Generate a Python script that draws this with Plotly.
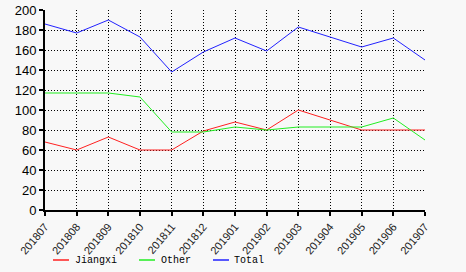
import plotly.graph_objects as go

months = ["201807", "201808", "201809", "201810", "201811", "201812", "201901",
          "201902", "201903", "201904", "201905", "201906", "201907"]
jiangxi = [68, 60, 73, 60, 60, 79, 88, 80, 100, 90, 80, 80, 80]
other = [117, 117, 117, 113, 78, 78, 83, 80, 83, 83, 83, 92, 70]
total = [186, 177, 190, 173, 138, 158, 172, 159, 183, 173, 163, 172, 150]

series_names = ["Jiangxi", "Other", "Total"]
series_colors = ["#ff2020", "#22ee22", "#2222ff"]
series_values = [jiangxi, other, total]

y_ticks = list(range(0, 201, 20))

# plot area geometry (px)
L, R, T, B = 45, 41, 10, 62
W, H = 466, 272
PW, PH = W - L - R, H - T - B

fig = go.Figure()
for name, color, vals in zip(series_names, series_colors, series_values):
    fig.add_trace(go.Scatter(x=months, y=vals, name=name, mode="lines",
                             line=dict(color=color, width=1), showlegend=False))

# manual legend (short lines like the reference)
legend_pos = [(53, 69, 73), (139, 155, 159), (213, 229, 232)]
ly = -(260 - (T + PH)) / PH
for (x0, x1, tx), name, color in zip(legend_pos, series_names, series_colors):
    fig.add_shape(type="line", xref="paper", yref="paper",
                  x0=(x0 - L) / PW, x1=(x1 - L) / PW, y0=ly, y1=ly,
                  line=dict(color=color, width=1.5))
    fig.add_annotation(xref="paper", yref="paper", x=(tx - L) / PW, y=ly,
                       xanchor="left", yanchor="middle", showarrow=False,
                       text=name,
                       font=dict(family="Liberation Mono, DejaVu Sans Mono",
                                 size=10, color="#000"))

fig.update_layout(
    width=W, height=H,
    margin=dict(l=L, r=R, t=T, b=B, autoexpand=False),
    paper_bgcolor="#f8f8f8", plot_bgcolor="#f8f8f8",
    font=dict(family="Arial, Liberation Sans", size=12, color="#000"),
    showlegend=False,
)
fig.update_xaxes(
    type="category", range=[0, 12], tickangle=-50, automargin=False,
    showgrid=True, gridcolor="#000", griddash="1px,2px", gridwidth=1,
    showline=True, linecolor="#000", linewidth=2,
    ticks="outside", ticklen=4, tickcolor="#000", tickwidth=2,
    tickfont=dict(size=11, color="#222"), zeroline=False,
)
fig.update_yaxes(
    range=[0, 200], tickvals=y_ticks, automargin=False,
    showgrid=True, gridcolor="#000", griddash="1px,2px", gridwidth=1,
    showline=True, linecolor="#000", linewidth=2,
    ticks="outside", ticklen=4, tickcolor="#000", tickwidth=2,
    tickfont=dict(size=13), zeroline=False,
)
fig.write_html("out.html")
